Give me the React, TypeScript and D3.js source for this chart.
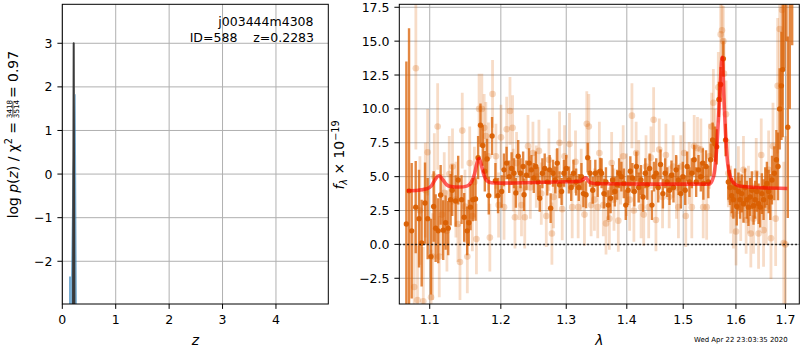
import React from "react";
import * as d3 from "d3";

const FONT = "DejaVu Sans";

// ---- left panel: log p(z)
const zTicks = [0, 1, 2, 3, 4];
const logpTicks = [-2, -1, 0, 1, 2, 3];
const zPeak = [0.2, 0.2135, 0.227];
const logpPeak = [-3.5, 3.0, -3.5];
const zFill = [0.125, 0.125, 0.163, 0.19, 0.238, 0.251, 0.275];
const logpFill = [-3.5, -2.35, -2.35, 0.0, 1.83, 1.83, -3.5];

// ---- right panel: spectrum
const lamTicks = [1.1, 1.2, 1.3, 1.4, 1.5, 1.6, 1.7];
const fluxTicks = [-2.5, 0, 2.5, 5, 7.5, 10, 12.5, 15, 17.5];

const modelLam = [1.0697, 1.085, 1.096, 1.102, 1.107, 1.1125, 1.118, 1.123, 1.129, 1.141, 1.151, 1.157, 1.162, 1.1655, 1.1684, 1.1715, 1.1755, 1.1795, 1.186, 1.2, 1.25, 1.3, 1.322, 1.3275, 1.3315, 1.3345, 1.339, 1.35, 1.45, 1.548, 1.554, 1.559, 1.5635, 1.5675, 1.5735, 1.5765, 1.5805, 1.5845, 1.5905, 1.6, 1.613, 1.65, 1.704];
const modelFlux = [3.96, 4.0, 4.1, 4.3, 4.75, 5.07, 4.75, 4.4, 4.27, 4.23, 4.3, 4.55, 5.2, 6.0, 6.33, 5.9, 5.1, 4.7, 4.55, 4.52, 4.57, 4.62, 4.66, 4.8, 4.92, 4.75, 4.55, 4.48, 4.45, 4.45, 4.7, 5.5, 7.5, 10.2, 13.8, 11.0, 7.7, 5.8, 4.85, 4.4, 4.27, 4.18, 4.13];

// [lambda (um), flux, err]
const specDark: [number, number, number][] = [
  [1.069, 1.5, 12], [1.0725, 3.95, 12], [1.076, 1.0, 5], [1.0813, 2.75, 3.4], [1.0857, 1.9, 3.6],
  [1.0892, 0.1, 3.2], [1.0937, 3.05, 3.0], [1.0972, 1.9, 3.0], [1.1017, -0.9, 2.8], [1.1053, 2.8, 2.6],
  [1.108, 1.2, 2.5], [1.1115, 1.0, 2.4], [1.1148, 3.65, 2.2], [1.1183, 1.05, 2.2], [1.1216, 1.6, 2.0],
  [1.1252, 1.2, 2.0], [1.1285, 3.3, 1.9], [1.1307, 4.0, 1.9], [1.1354, 3.2, 1.9], [1.139, 4.75, 1.8],
  [1.1437, 3.3, 1.8], [1.1474, 2.0, 1.8], [1.1516, 1.0, 1.8], [1.1539, 1.6, 1.7], [1.1563, 2.75, 1.7],
  [1.1596, 3.3, 1.6], [1.1634, 3.35, 1.6], [1.1671, 6.4, 1.6], [1.1705, 8.8, 1.6], [1.1738, 7.3, 1.5],
  [1.1767, 5.4, 1.5], [1.18, 6.3, 1.5], [1.1824, 3.6, 1.4], [1.1872, 8.0, 1.4], [1.1921, 4.7, 1.3],
  [1.1959, 3.6, 1.3],
  [1.2012, 3.9, 1.2], [1.2046, 5.5, 1.2], [1.2085, 6.0, 1.2], [1.2124, 5.0, 1.2], [1.2159, 5.6, 1.2],
  [1.2194, 5.25, 1.1], [1.2223, 3.8, 1.1], [1.2258, 6.5, 1.2], [1.2292, 5.25, 1.1], [1.2332, 5.75, 1.1],
  [1.2346, 3.66, 1.2], [1.2381, 5.1, 1.1], [1.2423, 6.0, 1.1], [1.2458, 5.5, 1.1], [1.2494, 4.9, 1.1],
  [1.2524, 5.75, 1.1], [1.2559, 4.6, 1.1], [1.2585, 3.4, 1.0], [1.2626, 5.25, 1.1], [1.2662, 5.6, 1.1],
  [1.2702, 4.6, 1.0], [1.2739, 5.5, 1.1], [1.2754, 2.67, 1.1], [1.2791, 5.25, 1.0], [1.2827, 4.75, 1.0],
  [1.2858, 6.0, 1.1], [1.2894, 4.4, 1.0], [1.2926, 3.9, 1.0], [1.2963, 5.25, 1.0], [1.3, 5.6, 1.0],
  [1.3042, 4.75, 1.0], [1.3079, 4.2, 1.0], [1.3116, 5.25, 1.0], [1.3158, 4.6, 1.0], [1.3201, 4.2, 1.0],
  [1.3244, 5.0, 1.0], [1.3276, 3.75, 1.0], [1.3319, 3.66, 1.0], [1.3346, 6.4, 1.1], [1.3384, 5.25, 1.0],
  [1.3428, 4.0, 1.0], [1.3471, 5.25, 1.0], [1.3509, 4.5, 1.0], [1.3553, 5.4, 1.0],
  [1.3575, 5.25, 1.1], [1.3614, 3.75, 1.1], [1.3647, 4.6, 1.1], [1.3686, 2.9, 1.1], [1.3725, 3.4, 1.1],
  [1.3758, 4.75, 1.1], [1.3797, 3.9, 1.1], [1.3836, 4.4, 1.1], [1.3869, 5.25, 1.1], [1.3908, 5.0, 1.1],
  [1.3949, 4.5, 1.1], [1.3982, 2.9, 1.1], [1.4022, 4.0, 1.1], [1.4061, 5.4, 1.1], [1.4096, 4.9, 1.1],
  [1.413, 3.9, 1.1], [1.4165, 5.75, 1.1], [1.4205, 4.2, 1.1], [1.4245, 4.75, 1.1], [1.428, 3.5, 1.1],
  [1.432, 5.25, 1.1], [1.4355, 4.4, 1.1], [1.4396, 5.6, 1.1], [1.4437, 2.9, 1.1], [1.4472, 5.0, 1.1],
  [1.4513, 5.25, 1.1], [1.4549, 4.2, 1.1], [1.459, 5.9, 1.1], [1.4632, 3.75, 1.1], [1.4673, 5.25, 1.1],
  [1.4709, 4.6, 1.1], [1.4751, 4.0, 1.1], [1.4787, 5.1, 1.1], [1.4823, 4.2, 1.1], [1.4871, 5.5, 1.1],
  [1.4914, 4.75, 1.1], [1.4957, 3.75, 1.1], [1.4993, 5.0, 1.1], [1.5036, 4.0, 1.1], [1.5073, 5.75, 1.1],
  [1.5116, 4.6, 1.1], [1.5159, 5.25, 1.1], [1.5203, 6.25, 1.1], [1.524, 4.6, 1.1], [1.5284, 5.5, 1.1],
  [1.5327, 5.0, 1.1], [1.5365, 6.0, 1.1],
  [1.5375, 4.5, 1.2], [1.5425, 5.75, 1.2], [1.5469, 4.6, 1.2], [1.5513, 6.25, 1.2], [1.555, 7.7, 1.3],
  [1.5595, 7.4, 1.3], [1.5627, 7.2, 1.3], [1.5671, 10.7, 1.3], [1.5703, 11.8, 1.3], [1.5755, 13.7, 1.3],
  [1.5799, 7.7, 1.2], [1.5852, 4.6, 1.3], [1.5884, 4.2, 1.3], [1.5917, 3.6, 1.3], [1.595, 3.3, 1.4],
  [1.5983, 4.2, 1.4], [1.6016, 2.8, 1.4], [1.6048, 3.9, 1.4], [1.6081, 3.3, 1.4], [1.6114, 3.75, 1.4],
  [1.6148, 3.0, 1.4], [1.6181, 4.2, 1.4], [1.6214, 3.3, 1.4], [1.6247, 2.75, 1.4], [1.6281, 3.5, 1.4],
  [1.6314, 4.0, 1.4], [1.6348, 2.85, 1.4], [1.6381, 3.3, 1.4], [1.6415, 3.9, 1.5], [1.6449, 3.0, 1.5],
  [1.6483, 2.75, 1.5], [1.6516, 3.75, 1.5], [1.655, 3.3, 1.5], [1.6584, 4.2, 1.5], [1.6618, 4.5, 1.6],
  [1.6653, 3.9, 1.6], [1.6687, 3.5, 1.7], [1.6721, 4.75, 1.8], [1.6769, 5.25, 2.0], [1.6811, 6.25, 2.2],
  [1.6845, 5.75, 2.5], [1.688, 10.0, 3.0], [1.6915, 11.7, 4.0], [1.6943, 12.9, 5.0], [1.6978, 22, 9],
  [1.702, 25, 10], [1.7048, 8.65, 6.7], [1.709, 22, 12], [1.714, 24, 9.3],
];

const specLight: [number, number, number][] = [
  [1.0793, -3.15, 4], [1.0815, 13.0, 6], [1.0837, -4.1, 4], [1.0869, 2.5, 4], [1.0914, -4.2, 4],
  [1.0941, 4.0, 3.5], [1.0972, 6.8, 3.2], [1.1018, -3.9, 3.5], [1.1039, -0.9, 3.2], [1.1062, 5.0, 3.2],
  [1.1107, 8.7, 3.2], [1.1129, -0.9, 3], [1.1166, 2.2, 3], [1.1197, 3.8, 3], [1.1234, 1.0, 3],
  [1.1266, 5.2, 2.8], [1.1311, 5.75, 2.8], [1.1358, 3.3, 2.8], [1.1386, 1.5, 2.8], [1.1415, -1.3, 2.8],
  [1.1447, 8.4, 2.8], [1.1485, 2.8, 2.7], [1.1518, -0.9, 2.7], [1.1552, 6.0, 2.7], [1.1589, 2.1, 2.6],
  [1.1618, 4.6, 2.6], [1.1647, 0.4, 2.6], [1.1685, 10.0, 2.6], [1.1724, 10.0, 2.6], [1.1758, 8.6, 2.5],
  [1.1782, 8.0, 2.5], [1.182, 6.5, 2.5], [1.184, 0.5, 2.5], [1.1879, 11.1, 2.5], [1.1928, 6.5, 2.4],
  [1.1967, 2.9, 2.4], [1.2002, 7.9, 2.4],
  [1.2047, 2.75, 2.4], [1.2086, 8.5, 2.4], [1.2135, 9.85, 2.5], [1.2174, 8.6, 2.4], [1.2184, 4.75, 2.3],
  [1.2209, 2.0, 2.3], [1.2233, 6.0, 2.3], [1.2273, 4.1, 2.3], [1.2307, 2.9, 2.3], [1.2357, 2.0, 2.3],
  [1.2406, 7.25, 2.3], [1.2441, 4.2, 2.3], [1.2481, 6.75, 2.3], [1.2532, 5.0, 2.3], [1.2573, 6.9, 2.3],
  [1.2609, 3.75, 2.3], [1.2686, 2.1, 2.3], [1.2727, 6.25, 2.3], [1.2774, 0.8, 2.3], [1.28, 3.5, 2.3],
  [1.2842, 4.75, 2.3], [1.2894, 7.5, 2.3], [1.2936, 2.6, 2.3], [1.2973, 6.5, 2.3], [1.3052, 7.4, 2.3],
  [1.3095, 2.75, 2.3], [1.3148, 6.1, 2.3], [1.3191, 2.75, 2.3], [1.324, 4.75, 2.3], [1.3293, 2.2, 2.3],
  [1.3331, 8.9, 2.4], [1.3364, 8.7, 2.4], [1.3402, 2.9, 2.3], [1.3456, 3.3, 2.3], [1.3511, 2.75, 2.3],
  [1.3538, 6.75, 2.3],
  [1.3603, 2.9, 2.3], [1.3648, 1.55, 2.3], [1.3704, 1.9, 2.3], [1.3743, 6.0, 2.3], [1.3782, 3.3, 2.3],
  [1.3855, 1.75, 2.3], [1.3894, 5.25, 2.3], [1.3938, 6.5, 2.3], [1.3994, 4.4, 2.3], [1.4049, 3.3, 2.3],
  [1.4088, 9.5, 2.4], [1.4122, 2.5, 2.3], [1.4161, 6.75, 2.3], [1.4207, 5.4, 2.3], [1.4247, 2.75, 2.3],
  [1.4293, 2.2, 2.3], [1.4333, 5.75, 2.3], [1.438, 2.75, 2.3], [1.442, 6.4, 2.3], [1.4467, 9.2, 2.4],
  [1.4508, 1.8, 2.3], [1.4567, 7.0, 2.3], [1.4626, 3.5, 2.3], [1.4686, 6.6, 2.3], [1.4745, 3.5, 2.3],
  [1.4817, 5.75, 2.3], [1.4877, 4.2, 2.3], [1.4913, 2.75, 2.3], [1.4956, 5.75, 2.3], [1.5017, 6.75, 2.3],
  [1.5048, 2.1, 2.3], [1.511, 5.25, 2.3], [1.5159, 2.75, 2.3], [1.5203, 7.25, 2.3], [1.5265, 7.1, 2.3],
  [1.5328, 7.0, 2.3], [1.5372, 2.75, 2.3],
  [1.5437, 2.75, 2.4], [1.5488, 6.5, 2.4], [1.5532, 8.7, 2.5], [1.5564, 10.45, 2.5], [1.5595, 7.5, 2.5],
  [1.5659, 11.6, 2.6], [1.5704, 15.5, 2.6], [1.5729, 15.8, 2.6], [1.5755, 15.0, 2.6], [1.5768, 12.6, 2.6],
  [1.5807, 9.6, 2.5], [1.5852, 5.25, 2.5], [1.5898, 3.3, 2.5], [1.595, 2.2, 2.5], [1.6002, 0.95, 2.5],
  [1.6048, 4.75, 2.5], [1.6094, 2.75, 2.5], [1.6148, 5.5, 2.5], [1.6201, 1.8, 2.5], [1.6247, 3.3, 2.5],
  [1.6294, 0.8, 2.5], [1.6348, 1.9, 2.6], [1.6402, 5.25, 2.6], [1.6449, 0.8, 2.6], [1.6503, 6.6, 2.7],
  [1.655, 1.05, 2.7], [1.6605, 2.75, 2.8], [1.6653, 5.5, 2.9], [1.6701, 0.45, 3.0], [1.6742, 7.25, 3.2],
  [1.6797, 1.9, 3.5], [1.6838, 11.7, 5], [1.688, 15.9, 6], [1.6929, 17.3, 7], [1.6964, 0.1, 6],
  [1.6999, 0.0, 8],
];

const stamp = "Wed Apr 22 23:03:35 2020";

// layout (pixels)
const L = { x0: 62.3, x1: 328.3, y0: 4.3, y1: 304 };
const R = { x0: 399.3, x1: 799.3, y0: 4.3, y1: 304 };
const TICK = 4.9;
const PAD = 4.9;
const GRID = "#b0b0b0";
const ORANGE = "#d95f02";

const minus = (s: string) => s.replace("-", "\u2212");

export default function App() {
  const zx = d3.scaleLinear().domain([0, 4.98]).range([L.x0, L.x1]);
  const zy = d3.scaleLinear().domain([-2.98, 3.894]).range([L.y1, L.y0]);
  const lx = d3.scaleLog().domain([1.0598, 1.729]).range([R.x0, R.x1]);
  const fy = d3.scaleLinear().domain([-4.4, 17.72]).range([R.y1, R.y0]);

  const peakPts = zPeak.map((z, i) => [z, logpPeak[i]] as [number, number]);
  const fillPts = zFill.map((z, i) => [z, logpFill[i]] as [number, number]);
  const peakLine = d3.line<[number, number]>().x(d => zx(d[0])).y(d => zy(d[1]))(peakPts) || "";
  const fillArea = d3.area<[number, number]>().x(d => zx(d[0])).y0(zy(-3.5)).y1(d => zy(d[1]))(fillPts) || "";

  const modelPts = modelLam.map((l, i) => [l, modelFlux[i]] as [number, number]);
  const modelLine = d3.line<[number, number]>().curve(d3.curveMonotoneX).x(d => lx(d[0])).y(d => fy(d[1]))(modelPts) || "";

  const tickStyle = { fontFamily: FONT, fontSize: 12.5, fill: "#000" } as const;

  return (
    <svg width={800} height={350} style={{ position: "absolute", left: 0, top: 0, background: "#fff" }} fontFamily={FONT}>
      <defs>
        <clipPath id="clipL"><rect x={L.x0} y={L.y0} width={L.x1 - L.x0} height={L.y1 - L.y0} /></clipPath>
        <clipPath id="clipR"><rect x={R.x0} y={R.y0} width={R.x1 - R.x0} height={R.y1 - R.y0} /></clipPath>
      </defs>
      <rect width={800} height={350} fill="#fff" />

      {/* ---------- left panel ---------- */}
      <g>
        {zTicks.map(t => (
          <line key={"gzx" + t} x1={zx(t)} x2={zx(t)} y1={L.y0} y2={L.y1} stroke={GRID} strokeWidth={1} />
        ))}
        {logpTicks.map(t => (
          <line key={"gzy" + t} x1={L.x0} x2={L.x1} y1={zy(t)} y2={zy(t)} stroke={GRID} strokeWidth={1} />
        ))}
        <g clipPath="url(#clipL)">
          <path d={fillArea} fill="#1f77b4" fillOpacity={0.6} stroke="none" />
          <path d={peakLine} fill="none" stroke="#3a3a3a" strokeWidth={2} strokeLinejoin="round" />
        </g>
        <rect x={L.x0} y={L.y0} width={L.x1 - L.x0} height={L.y1 - L.y0} fill="none" stroke="#000" strokeWidth={1} />
        {zTicks.map(t => (
          <g key={"tzx" + t}>
            <line x1={zx(t)} x2={zx(t)} y1={L.y1} y2={L.y1 + TICK} stroke="#000" strokeWidth={1} />
            <text x={zx(t)} y={L.y1 + TICK + PAD + 10} textAnchor="middle" style={tickStyle}>{t}</text>
          </g>
        ))}
        {logpTicks.map(t => (
          <g key={"tzy" + t}>
            <line x1={L.x0 - TICK} x2={L.x0} y1={zy(t)} y2={zy(t)} stroke="#000" strokeWidth={1} />
            <text x={L.x0 - TICK - PAD} y={zy(t)} dy="0.36em" textAnchor="end" style={tickStyle}>{minus(String(t))}</text>
          </g>
        ))}
        <text x={313.5} y={25.5} textAnchor="end" style={tickStyle}>j003444m4308</text>
        <text x={314} y={41.5} textAnchor="end" style={{ ...tickStyle, whiteSpace: "pre" }}>{"ID=588    z=0.2283"}</text>
        <text x={(L.x0 + L.x1) / 2} y={344.5} textAnchor="middle" fontSize={13.9} fontStyle="italic">z</text>
        <g transform="translate(17.5,155) rotate(-90)" fontSize={13.9}>
          <text x={33} y={0} textAnchor="end" style={{ whiteSpace: "pre" }}>
            log <tspan fontStyle="italic">p</tspan>(<tspan fontStyle="italic">z</tspan>) / χ
            <tspan fontSize={9.7} dy={-5.5}>2</tspan>
            <tspan dy={5.5}> =</tspan>
          </text>
          <text x={46} y={-5.8} textAnchor="middle" fontSize={7.2}>3418</text>
          <line x1={38.5} x2={53.5} y1={-4.6} y2={-4.6} stroke="#000" strokeWidth={0.7} />
          <text x={46} y={1.9} textAnchor="middle" fontSize={7.2}>3514</text>
          <text x={57} y={0} textAnchor="start" style={{ whiteSpace: "pre" }}>= 0.97</text>
        </g>
      </g>

      {/* ---------- right panel ---------- */}
      <g>
        {lamTicks.map(t => (
          <line key={"glx" + t} x1={lx(t)} x2={lx(t)} y1={R.y0} y2={R.y1} stroke={GRID} strokeWidth={1} />
        ))}
        {fluxTicks.map(t => (
          <line key={"gfy" + t} x1={R.x0} x2={R.x1} y1={fy(t)} y2={fy(t)} stroke={GRID} strokeWidth={1} />
        ))}
        <g clipPath="url(#clipR)">
          {specLight.map((d, i) => (
            <line key={"le" + i} x1={lx(d[0])} x2={lx(d[0])} y1={fy(d[1] - d[2])} y2={fy(d[1] + d[2])}
              stroke={ORANGE} strokeOpacity={0.22} strokeWidth={2.8} />
          ))}
          {specLight.map((d, i) => (
            <circle key={"lp" + i} cx={lx(d[0])} cy={fy(d[1])} r={3.3} fill={ORANGE} fillOpacity={0.25} />
          ))}
          {specDark.map((d, i) => (
            <line key={"de" + i} x1={lx(d[0])} x2={lx(d[0])} y1={fy(d[1] - d[2])} y2={fy(d[1] + d[2])}
              stroke={ORANGE} strokeOpacity={0.75} strokeWidth={2.4} />
          ))}
          {specDark.map((d, i) => (
            <circle key={"dp" + i} cx={lx(d[0])} cy={fy(d[1])} r={2.7} fill={ORANGE} fillOpacity={0.95} />
          ))}
          <line x1={R.x0} x2={R.x1} y1={fy(0)} y2={fy(0)} stroke="#000" strokeWidth={1.5} strokeDasharray="1.5,2.5" />
          <path d={modelLine} fill="none" stroke="red" strokeOpacity={0.62} strokeWidth={3.6} strokeLinejoin="round" />
        </g>
        <rect x={R.x0} y={R.y0} width={R.x1 - R.x0} height={R.y1 - R.y0} fill="none" stroke="#000" strokeWidth={1} />
        {lamTicks.map(t => (
          <g key={"tlx" + t}>
            <line x1={lx(t)} x2={lx(t)} y1={R.y1} y2={R.y1 + TICK} stroke="#000" strokeWidth={1} />
            <text x={lx(t)} y={R.y1 + TICK + PAD + 10} textAnchor="middle" style={tickStyle}>{t.toFixed(1)}</text>
          </g>
        ))}
        {fluxTicks.map(t => (
          <g key={"tfy" + t}>
            <line x1={R.x0 - TICK} x2={R.x0} y1={fy(t)} y2={fy(t)} stroke="#000" strokeWidth={1} />
            <text x={R.x0 - TICK - PAD} y={fy(t)} dy="0.36em" textAnchor="end" style={tickStyle}>{minus(t.toFixed(1))}</text>
          </g>
        ))}
        <text x={(R.x0 + R.x1) / 2} y={344.5} textAnchor="middle" fontSize={13.9} fontStyle="italic">λ</text>
        <g transform="translate(344,155) rotate(-90)" fontSize={13.9}>
          <text x={0} y={0} textAnchor="middle" style={{ whiteSpace: "pre" }}>
            <tspan fontStyle="italic">f</tspan>
            <tspan fontSize={9.7} fontStyle="italic" dy={3}>λ</tspan>
            <tspan dy={-3}> × 10</tspan>
            <tspan fontSize={9.7} dy={-5.5}>−19</tspan>
          </text>
        </g>
        <text x={694} y={341.5} fontSize={6.94}>{stamp}</text>
      </g>
    </svg>
  );
}
